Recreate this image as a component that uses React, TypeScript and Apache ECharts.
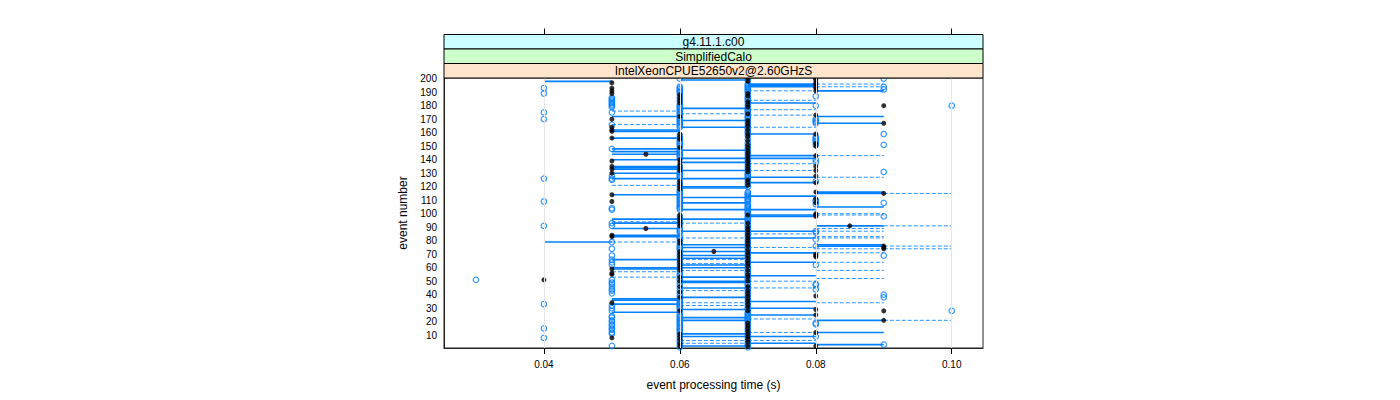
import React, { useEffect, useRef } from "react";
import * as echarts from "echarts";

// ---- axis / strip texts ----
const xTicks = [0.04, 0.06, 0.08, 0.1];
const yTicks = [10, 20, 30, 40, 50, 60, 70, 80, 90, 100, 110, 120, 130, 140, 150, 160, 170, 180, 190, 200];
const stripLabels = ["g4.11.1.c00", "SimplifiedCalo", "IntelXeonCPUE52650v2@2.60GHzS"];
const stripColors = ["#ccffff", "#ccffcc", "#ffe5cc"];
const xTitle = "event processing time (s)";
const yTitle = "event number";

// ---- blue open circles: event numbers per processing time (s) ----
const blue030 = [51];
const blue040 = [193, 189, 175, 170, 126, 109, 91, 33, 15, 8];
const blue050 = [186, 185, 184, 183, 182, 181, 180, 179, 175, 166, 148, 128, 126, 125, 104, 103, 93, 91, 79, 74, 69, 66, 64, 62, 51, 49, 48, 46, 44, 43, 41, 32, 30, 28, 24, 23, 21, 20, 18, 17, 15, 14, 12, 11, 2];
const blue060 = [200, 194, 193, 192, 191, 190, 189, 187, 185, 183, 181, 180, 179, 178, 177, 176, 175, 174, 173, 171, 170, 169, 168, 167, 166, 165, 164, 158, 156, 154, 153, 152, 151, 150, 147, 146, 145, 144, 143, 142, 141, 135, 133, 131, 130, 129, 128, 127, 126, 123, 121, 119, 117, 116, 115, 114, 113, 112, 111, 110, 109, 108, 107, 106, 105, 104, 103, 98, 96, 94, 92, 89, 88, 87, 86, 83, 82, 81, 79, 77, 76, 75, 74, 73, 71, 69, 67, 65, 63, 61, 59, 57, 55, 54, 52, 51, 49, 47, 45, 43, 41, 39, 37, 36, 35, 34, 33, 32, 31, 30, 29, 27, 25, 24, 23, 22, 21, 20, 19, 18, 17, 16, 15, 14, 13, 12, 10, 8, 6, 5, 3, 1];
const blue070 = [199, 196, 195, 194, 193, 192, 191, 190, 188, 186, 185, 184, 182, 180, 178, 177, 176, 175, 173, 172, 171, 170, 168, 166, 164, 163, 161, 160, 158, 155, 152, 150, 148, 146, 144, 142, 140, 138, 136, 134, 132, 130, 129, 128, 127, 126, 124, 122, 120, 116, 115, 114, 113, 112, 111, 110, 109, 107, 106, 105, 104, 103, 102, 101, 100, 98, 97, 96, 95, 94, 92, 91, 89, 87, 85, 83, 81, 79, 77, 75, 74, 72, 70, 68, 66, 64, 62, 60, 59, 57, 56, 54, 52, 51, 49, 48, 47, 45, 44, 42, 40, 38, 36, 34, 32, 30, 29, 27, 26, 25, 24, 23, 22, 21, 20, 18, 16, 14, 12, 10, 8, 6, 4, 3, 1];
const blue080 = [187, 180, 170, 169, 168, 167, 157, 156, 155, 154, 153, 151, 140, 138, 124, 110, 109, 107, 87, 86, 81, 76, 62, 48, 47, 44, 19, 18, 9];
const blue090 = [200, 194, 192, 159, 151, 131, 108, 98, 69, 40, 38, 3];
const blue100 = [180, 28];

// ---- black filled dots: event numbers per processing time (s) ----
const black040 = [51];
const black050 = [197, 193, 191, 189, 170, 164, 162, 161, 156, 139, 135, 133, 130, 114, 109, 84, 83, 59, 56, 55, 34, 8];
const black055 = [144, 89];
const black060 = [188, 186, 184, 182, 172, 159, 157, 155, 149, 140, 138, 136, 134, 132, 124, 122, 120, 118, 99, 97, 95, 93, 91, 80, 78, 72, 70, 68, 66, 64, 62, 60, 58, 53, 50, 46, 42, 38, 28, 11, 9, 7, 4, 2];
const black065 = [72];
const black070 = [200, 198, 189, 187, 183, 181, 179, 174, 169, 167, 165, 162, 159, 157, 154, 151, 149, 147, 145, 143, 141, 139, 137, 135, 133, 131, 125, 123, 121, 99, 93, 90, 88, 86, 84, 82, 80, 78, 76, 73, 71, 69, 67, 65, 63, 61, 58, 55, 53, 50, 46, 43, 41, 39, 37, 35, 33, 31, 28, 19, 17, 15, 13, 11, 9, 7, 5, 2];
const black080 = [200, 199, 197, 196, 194, 193, 191, 173, 159, 152, 150, 143, 135, 132, 128, 123, 116, 111, 108, 100, 99, 98, 70, 69, 68, 39, 29, 25, 12, 2];
const black085 = [91];
const black090 = [180, 167, 115, 76, 75, 74, 28, 21];

// ---- connecting segments (event numbers) between two times ----
const solid45 = [198, 79];
const solid56 = [172, 162, 161, 156, 148, 146, 144, 140, 135, 134, 133, 130, 126, 114, 96, 93, 89, 84, 83, 66, 60, 59, 37, 36, 33, 27];
const dashed56 = [176, 166, 121, 94, 79, 57, 53];
const solid67 = [199, 178, 169, 164, 147, 141, 138, 132, 126, 120, 119, 112, 108, 103, 96, 87, 77, 75, 72, 69, 67, 62, 60, 53, 50, 49, 45, 38, 29, 23, 21, 11, 9, 2];
const dashed67 = [174, 93, 82, 66, 63, 58, 43, 34, 32, 6, 4];
const solid78 = [196, 195, 194, 182, 159, 143, 141, 127, 123, 113, 103, 99, 98, 87, 82, 71, 64, 54, 35, 30, 25, 9, 4];
const dashed78 = [191, 184, 177, 173, 164, 137, 132, 85, 75, 50, 45, 22, 12, 6];
const solid89 = [191, 172, 167, 116, 115, 105, 91, 77, 76, 21, 12, 3];
const dashed89 = [196, 194, 143, 127, 100, 99, 89, 87, 83, 82, 74, 71, 64, 58, 52, 34];
const dashed910 = [115, 91, 76, 74, 21];

const blueCols: [number, number[]][] = [
  [0.03, blue030], [0.04, blue040], [0.05, blue050], [0.06, blue060],
  [0.07, blue070], [0.08, blue080], [0.09, blue090], [0.1, blue100],
];
const blackCols: [number, number[]][] = [
  [0.04, black040], [0.05, black050], [0.055, black055], [0.06, black060], [0.065, black065],
  [0.07, black070], [0.08, black080], [0.085, black085], [0.09, black090],
];
const segGroups: [number, number, number[], boolean][] = [
  [0.04, 0.05, solid45, false],
  [0.05, 0.06, solid56, false], [0.05, 0.06, dashed56, true],
  [0.06, 0.07, solid67, false], [0.06, 0.07, dashed67, true],
  [0.07, 0.08, solid78, false], [0.07, 0.08, dashed78, true],
  [0.08, 0.09, solid89, false], [0.08, 0.09, dashed89, true],
  [0.09, 0.1, dashed910, true],
];

const FONT = "Liberation Sans, Arial, Helvetica, sans-serif";
const BLUE = "#0080ff";

export default function App() {
  const ref = useRef<HTMLDivElement>(null);
  useEffect(() => {
    if (!ref.current) return;
    const chart = echarts.init(ref.current, undefined, { renderer: "svg" });

    const blueData = blueCols.flatMap(([t, evs]) => evs.map((e) => [t, e]));
    const blackData = blackCols.flatMap(([t, evs]) => evs.map((e) => [t, e]));
    const segData = segGroups.flatMap(([a, b, evs, dashed]) =>
      evs.map((e) => [a, b, e, dashed ? 1 : 0])
    );

    const gridL = 444, gridR = 983, gridT = 78, gridB = 348;
    const stripH = 14.5;
    const stripTop = gridT - 3 * stripH;

    const graphics: any[] = [];
    stripLabels.forEach((lab, i) => {
      const y = stripTop + i * stripH;
      graphics.push({
        type: "rect",
        shape: { x: gridL, y, width: gridR - gridL, height: stripH },
        style: { fill: stripColors[i], stroke: "#000", lineWidth: 1 },
        z: 10,
      });
      graphics.push({
        type: "text",
        x: (gridL + gridR) / 2,
        y: y + stripH / 2 + 0.5,
        style: { text: lab, align: "center", verticalAlign: "middle", font: `12px ${FONT}`, fill: "#000" },
        z: 11,
      });
    });
    graphics.push({
      type: "text",
      x: (gridL + gridR) / 2,
      y: 385,
      style: { text: xTitle, align: "center", verticalAlign: "middle", font: `12px ${FONT}`, fill: "#000" },
    });
    graphics.push({
      type: "text",
      x: 403,
      y: (gridT + gridB) / 2,
      rotation: Math.PI / 2,
      style: { text: yTitle, align: "center", verticalAlign: "middle", font: `12px ${FONT}`, fill: "#000" },
    });

    chart.setOption({
      animation: false,
      backgroundColor: "#fff",
      grid: {
        left: gridL, right: 1400 - gridR, top: gridT, bottom: 400 - gridB,
        show: true, borderColor: "#222", borderWidth: 1, backgroundColor: "transparent",
      },
      xAxis: [
        {
          type: "value", min: 0.0253, max: 0.1046, position: "bottom",
          axisLine: { show: true, lineStyle: { color: "#222" } },
          axisTick: { show: true, customValues: xTicks, length: 6, lineStyle: { color: "#000" } },
          axisLabel: {
            customValues: xTicks, margin: 11, color: "#000", fontSize: 10, fontFamily: FONT,
            formatter: (v: number) => v.toFixed(2),
          },
          splitLine: { show: false },
        },
        {
          type: "value", min: 0.0253, max: 0.1046, position: "top", offset: gridT - stripTop,
          axisLine: { show: false },
          axisTick: { show: true, customValues: xTicks, length: 6, lineStyle: { color: "#000" } },
          axisLabel: { show: false, customValues: xTicks },
          splitLine: { show: false },
        },
      ],
      yAxis: {
        type: "value", min: 0.5, max: 200.5,
        axisLine: { show: true, lineStyle: { color: "#222" } },
        axisTick: { show: false },
        axisLabel: { customValues: yTicks, margin: 7, color: "#000", fontSize: 10, fontFamily: FONT },
        splitLine: { show: false },
      },
      graphic: graphics,
      series: [
        {
          type: "scatter",
          data: [],
          z: 1,
          markLine: {
            silent: true,
            symbol: ["none", "none"],
            label: { show: false },
            lineStyle: { color: "#e6e6e6", width: 1, type: "solid" },
            data: xTicks.map((v) => ({ xAxis: v })),
          },
        },
        {
          type: "custom",
          z: 2,
          data: segData,
          encode: { x: [0, 1], y: 2 },
          renderItem: (params: any, api: any) => {
            const p0 = api.coord([api.value(0), api.value(2)]);
            const p1 = api.coord([api.value(1), api.value(2)]);
            const dashed = api.value(3) === 1;
            return {
              type: "line",
              shape: { x1: p0[0], y1: p0[1], x2: p1[0], y2: p1[1] },
              style: { stroke: BLUE, lineWidth: dashed ? 1 : 1.6, lineDash: dashed ? [4, 2] : null, opacity: dashed ? 0.85 : 1 },
            };
          },
        },
        {
          type: "scatter",
          z: 3,
          data: blueData,
          symbol: "circle",
          symbolSize: 5.5,
          itemStyle: { color: "rgba(255,255,255,0)", borderColor: BLUE, borderWidth: 1.2 },
        },
        {
          type: "scatter",
          z: 4,
          data: blackData,
          symbol: "circle",
          symbolSize: 5,
          itemStyle: { color: "#000" },
        },
      ],
    });
    return () => chart.dispose();
  }, []);
  return (
    <div
      ref={ref}
      style={{ position: "fixed", left: 0, top: 0, width: 1400, height: 400, background: "#fff" }}
    />
  );
}
